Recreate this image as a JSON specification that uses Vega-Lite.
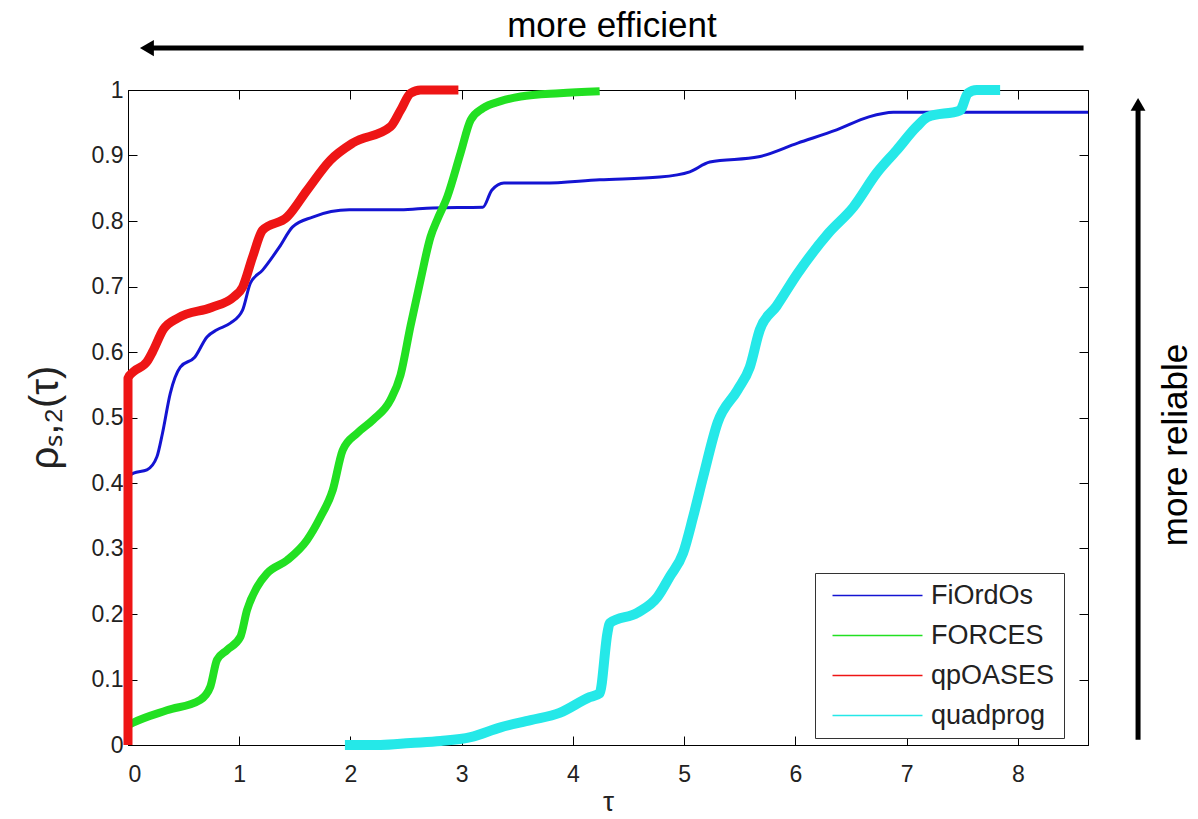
{
  "$schema": "https://vega.github.io/schema/vega-lite/v6.json",
  "width": 960,
  "height": 655,
  "autosize": {"type": "none"},
  "padding": {"left": 128, "top": 90, "right": 110, "bottom": 74},
  "background": "white",
  "config": {
    "view": {"stroke": "black", "strokeWidth": 1},
    "axis": {"grid": false, "domainColor": "black", "tickColor": "black", "labelFont": "Liberation Sans", "titleFont": "Liberation Sans", "labelColor": "#222", "titleColor": "#222", "titleFontWeight": "normal"},
    "line": {"interpolate": "monotone", "strokeJoin": "round", "strokeCap": "butt"}
  },
  "datasets": {
    "curves": [
      {"s": "FiOrdOs", "t": 0, "p": 0.41},
      {"s": "FiOrdOs", "t": 0.05, "p": 0.415},
      {"s": "FiOrdOs", "t": 0.17, "p": 0.42},
      {"s": "FiOrdOs", "t": 0.26, "p": 0.44},
      {"s": "FiOrdOs", "t": 0.31, "p": 0.476},
      {"s": "FiOrdOs", "t": 0.38, "p": 0.537},
      {"s": "FiOrdOs", "t": 0.47, "p": 0.577},
      {"s": "FiOrdOs", "t": 0.6, "p": 0.592},
      {"s": "FiOrdOs", "t": 0.71, "p": 0.623},
      {"s": "FiOrdOs", "t": 0.8, "p": 0.634},
      {"s": "FiOrdOs", "t": 0.92, "p": 0.644},
      {"s": "FiOrdOs", "t": 1.03, "p": 0.664},
      {"s": "FiOrdOs", "t": 1.1, "p": 0.705},
      {"s": "FiOrdOs", "t": 1.21, "p": 0.725},
      {"s": "FiOrdOs", "t": 1.36, "p": 0.76},
      {"s": "FiOrdOs", "t": 1.48, "p": 0.791},
      {"s": "FiOrdOs", "t": 1.66, "p": 0.806},
      {"s": "FiOrdOs", "t": 1.99, "p": 0.817},
      {"s": "FiOrdOs", "t": 2.45, "p": 0.817},
      {"s": "FiOrdOs", "t": 2.74, "p": 0.82},
      {"s": "FiOrdOs", "t": 3.19, "p": 0.821},
      {"s": "FiOrdOs", "t": 3.27, "p": 0.847},
      {"s": "FiOrdOs", "t": 3.38, "p": 0.858},
      {"s": "FiOrdOs", "t": 3.73, "p": 0.858},
      {"s": "FiOrdOs", "t": 4.24, "p": 0.863},
      {"s": "FiOrdOs", "t": 4.78, "p": 0.867},
      {"s": "FiOrdOs", "t": 5.05, "p": 0.875},
      {"s": "FiOrdOs", "t": 5.23, "p": 0.89},
      {"s": "FiOrdOs", "t": 5.67, "p": 0.898},
      {"s": "FiOrdOs", "t": 6.02, "p": 0.919},
      {"s": "FiOrdOs", "t": 6.37, "p": 0.939},
      {"s": "FiOrdOs", "t": 6.66, "p": 0.959},
      {"s": "FiOrdOs", "t": 6.88, "p": 0.966},
      {"s": "FiOrdOs", "t": 8.63, "p": 0.966},
      {"s": "FORCES", "t": 0, "p": 0.03},
      {"s": "FORCES", "t": 0.045, "p": 0.034},
      {"s": "FORCES", "t": 0.35, "p": 0.053},
      {"s": "FORCES", "t": 0.65, "p": 0.069},
      {"s": "FORCES", "t": 0.74, "p": 0.089},
      {"s": "FORCES", "t": 0.8, "p": 0.13},
      {"s": "FORCES", "t": 0.89, "p": 0.145},
      {"s": "FORCES", "t": 1.01, "p": 0.165},
      {"s": "FORCES", "t": 1.07, "p": 0.206},
      {"s": "FORCES", "t": 1.16, "p": 0.241},
      {"s": "FORCES", "t": 1.25, "p": 0.262},
      {"s": "FORCES", "t": 1.43, "p": 0.282},
      {"s": "FORCES", "t": 1.61, "p": 0.313},
      {"s": "FORCES", "t": 1.73, "p": 0.348},
      {"s": "FORCES", "t": 1.84, "p": 0.389},
      {"s": "FORCES", "t": 1.93, "p": 0.45},
      {"s": "FORCES", "t": 2.06, "p": 0.476},
      {"s": "FORCES", "t": 2.2, "p": 0.496},
      {"s": "FORCES", "t": 2.36, "p": 0.527},
      {"s": "FORCES", "t": 2.45, "p": 0.565},
      {"s": "FORCES", "t": 2.54, "p": 0.64},
      {"s": "FORCES", "t": 2.63, "p": 0.71},
      {"s": "FORCES", "t": 2.72, "p": 0.776},
      {"s": "FORCES", "t": 2.78, "p": 0.802},
      {"s": "FORCES", "t": 2.87, "p": 0.837},
      {"s": "FORCES", "t": 2.99, "p": 0.904},
      {"s": "FORCES", "t": 3.08, "p": 0.954},
      {"s": "FORCES", "t": 3.19, "p": 0.972},
      {"s": "FORCES", "t": 3.35, "p": 0.983},
      {"s": "FORCES", "t": 3.53, "p": 0.99},
      {"s": "FORCES", "t": 3.88, "p": 0.995},
      {"s": "FORCES", "t": 4.24, "p": 0.998},
      {"s": "qpOASES", "t": 0, "p": 0},
      {"s": "qpOASES", "t": 0, "p": 0.56},
      {"s": "qpOASES", "t": 0.05, "p": 0.57},
      {"s": "qpOASES", "t": 0.17, "p": 0.585},
      {"s": "qpOASES", "t": 0.22, "p": 0.6},
      {"s": "qpOASES", "t": 0.32, "p": 0.635},
      {"s": "qpOASES", "t": 0.45, "p": 0.652},
      {"s": "qpOASES", "t": 0.75, "p": 0.668},
      {"s": "qpOASES", "t": 0.95, "p": 0.684},
      {"s": "qpOASES", "t": 1.03, "p": 0.699},
      {"s": "qpOASES", "t": 1.12, "p": 0.745},
      {"s": "qpOASES", "t": 1.21, "p": 0.786},
      {"s": "qpOASES", "t": 1.43, "p": 0.806},
      {"s": "qpOASES", "t": 1.61, "p": 0.847},
      {"s": "qpOASES", "t": 1.82, "p": 0.893},
      {"s": "qpOASES", "t": 2.02, "p": 0.919},
      {"s": "qpOASES", "t": 2.36, "p": 0.944},
      {"s": "qpOASES", "t": 2.45, "p": 0.969},
      {"s": "qpOASES", "t": 2.54, "p": 0.995},
      {"s": "qpOASES", "t": 2.63, "p": 1.0},
      {"s": "qpOASES", "t": 2.97, "p": 1.0},
      {"s": "quadprog", "t": 1.95, "p": 0},
      {"s": "quadprog", "t": 2.27, "p": 0},
      {"s": "quadprog", "t": 2.54, "p": 0.003},
      {"s": "quadprog", "t": 2.81, "p": 0.006},
      {"s": "quadprog", "t": 3.08, "p": 0.012},
      {"s": "quadprog", "t": 3.35, "p": 0.027},
      {"s": "quadprog", "t": 3.62, "p": 0.038},
      {"s": "quadprog", "t": 3.88, "p": 0.049},
      {"s": "quadprog", "t": 4.15, "p": 0.073},
      {"s": "quadprog", "t": 4.24, "p": 0.079},
      {"s": "quadprog", "t": 4.31, "p": 0.171},
      {"s": "quadprog", "t": 4.33, "p": 0.186},
      {"s": "quadprog", "t": 4.58, "p": 0.202},
      {"s": "quadprog", "t": 4.76, "p": 0.226},
      {"s": "quadprog", "t": 4.87, "p": 0.257},
      {"s": "quadprog", "t": 4.99, "p": 0.293},
      {"s": "quadprog", "t": 5.08, "p": 0.348},
      {"s": "quadprog", "t": 5.17, "p": 0.409},
      {"s": "quadprog", "t": 5.3, "p": 0.492},
      {"s": "quadprog", "t": 5.48, "p": 0.542},
      {"s": "quadprog", "t": 5.59, "p": 0.577},
      {"s": "quadprog", "t": 5.68, "p": 0.634},
      {"s": "quadprog", "t": 5.83, "p": 0.67},
      {"s": "quadprog", "t": 6.02, "p": 0.72},
      {"s": "quadprog", "t": 6.3, "p": 0.782},
      {"s": "quadprog", "t": 6.52, "p": 0.821},
      {"s": "quadprog", "t": 6.73, "p": 0.873},
      {"s": "quadprog", "t": 6.91, "p": 0.908},
      {"s": "quadprog", "t": 7.09, "p": 0.944},
      {"s": "quadprog", "t": 7.19, "p": 0.959},
      {"s": "quadprog", "t": 7.48, "p": 0.969},
      {"s": "quadprog", "t": 7.55, "p": 0.995},
      {"s": "quadprog", "t": 7.63, "p": 1.0},
      {"s": "quadprog", "t": 7.84, "p": 1.0}
    ]
  },
  "layer": [
    {
      "data": {"name": "curves"},
      "transform": [{"filter": "datum.s == 'FiOrdOs'"}],
      "mark": {"type": "line", "strokeWidth": 3},
      "encoding": {
        "x": {"field": "t", "type": "quantitative", "title": "τ",
          "scale": {"domain": [0, 8.63], "nice": false, "zero": false},
          "axis": {"values": [0,1,2,3,4,5,6,7,8], "tickSize": -9, "labelPadding": 27, "labelFontSize": 23, "titleFontSize": 28, "titlePadding": 2, "format": "d"}},
        "y": {"field": "p", "type": "quantitative", "title": "ρₛ,₂(τ)",
          "scale": {"domain": [0, 1], "nice": false},
          "axis": {"values": [0,0.1,0.2,0.3,0.4,0.5,0.6,0.7,0.8,0.9,1], "tickSize": -9, "labelPadding": 14, "labelFontSize": 23, "titleFontSize": 40, "titleX": -83, "titleY": 327, "titleBaseline": "middle", "titleAlign": "center", "labelExpr": "datum.value == 0 ? '0' : datum.value == 1 ? '1' : format(datum.value, '.1f')"}},
        "color": {"field": "s", "type": "nominal",
          "scale": {"domain": ["FiOrdOs", "FORCES", "qpOASES", "quadprog"], "range": ["#1414d2", "#22e022", "#ee1515", "#25e8e8"]},
          "legend": {"orient": "none", "legendX": 687, "legendY": 483, "title": null, "symbolType": "M-4,0H4", "symbolSize": 506, "symbolStrokeWidth": 1.5, "symbolOffset": 40, "labelFont": "Liberation Sans", "labelFontSize": 27, "labelColor": "#222", "labelOffset": 40, "strokeColor": "#333", "fillColor": "white", "padding": 9, "rowPadding": 12}},
        "order": {"value": null}
      }
    },
    {
      "data": {"name": "curves"},
      "transform": [{"filter": "datum.s == 'FORCES'"}],
      "mark": {"type": "line", "strokeWidth": 8},
      "encoding": {
        "x": {"field": "t", "type": "quantitative", "axis": null, "scale": {"domain": [0, 8.63], "nice": false, "zero": false}},
        "y": {"field": "p", "type": "quantitative", "axis": null, "scale": {"domain": [0, 1], "nice": false}},
        "color": {"field": "s", "type": "nominal", "scale": {"domain": ["FiOrdOs", "FORCES", "qpOASES", "quadprog"], "range": ["#1414d2", "#22e022", "#ee1515", "#25e8e8"]}},
        "order": {"value": null}
      }
    },
    {
      "data": {"name": "curves"},
      "transform": [{"filter": "datum.s == 'qpOASES'"}],
      "mark": {"type": "line", "strokeWidth": 9},
      "encoding": {
        "x": {"field": "t", "type": "quantitative", "axis": null, "scale": {"domain": [0, 8.63], "nice": false, "zero": false}},
        "y": {"field": "p", "type": "quantitative", "axis": null, "scale": {"domain": [0, 1], "nice": false}},
        "color": {"field": "s", "type": "nominal", "scale": {"domain": ["FiOrdOs", "FORCES", "qpOASES", "quadprog"], "range": ["#1414d2", "#22e022", "#ee1515", "#25e8e8"]}},
        "order": {"value": null}
      }
    },
    {
      "data": {"name": "curves"},
      "transform": [{"filter": "datum.s == 'quadprog'"}],
      "mark": {"type": "line", "strokeWidth": 10},
      "encoding": {
        "x": {"field": "t", "type": "quantitative", "axis": null, "scale": {"domain": [0, 8.63], "nice": false, "zero": false}},
        "y": {"field": "p", "type": "quantitative", "axis": null, "scale": {"domain": [0, 1], "nice": false}},
        "color": {"field": "s", "type": "nominal", "scale": {"domain": ["FiOrdOs", "FORCES", "qpOASES", "quadprog"], "range": ["#1414d2", "#22e022", "#ee1515", "#25e8e8"]}},
        "order": {"value": null}
      }
    },
    {
      "data": {"name": "curves"},
      "mark": {"type": "line", "opacity": 0},
      "encoding": {
        "x": {"field": "t", "type": "quantitative", "scale": {"domain": [0, 8.63], "nice": false, "zero": false},
          "axis": {"orient": "top", "values": [0,1,2,3,4,5,6,7,8], "tickSize": -9, "labels": false, "title": null}},
        "y": {"field": "p", "type": "quantitative", "scale": {"domain": [0, 1], "nice": false},
          "axis": {"orient": "right", "values": [0,0.1,0.2,0.3,0.4,0.5,0.6,0.7,0.8,0.9,1], "tickSize": -9, "labels": false, "title": null}},
        "detail": {"field": "s"}
      }
    },
    {
      "data": {"values": [{}]},
      "mark": {"type": "rule", "strokeWidth": 5, "color": "black"},
      "encoding": {
        "x": {"datum": 8.59, "type": "quantitative", "axis": null, "scale": {"domain": [0, 8.63], "nice": false, "zero": false}},
        "x2": {"datum": 0.2},
        "y": {"datum": 1.064, "type": "quantitative", "axis": null, "scale": {"domain": [0, 1], "nice": false}}
      }
    },
    {
      "data": {"values": [{}]},
      "mark": {"type": "point", "shape": "triangle-left", "filled": true, "color": "black", "size": 260, "opacity": 1},
      "encoding": {
        "x": {"datum": 0.17, "type": "quantitative", "axis": null, "scale": {"domain": [0, 8.63], "nice": false, "zero": false}},
        "y": {"datum": 1.064, "type": "quantitative", "axis": null, "scale": {"domain": [0, 1], "nice": false}}
      }
    },
    {
      "data": {"values": [{}]},
      "mark": {"type": "rule", "strokeWidth": 5, "color": "black"},
      "encoding": {
        "x": {"datum": 9.08, "type": "quantitative", "axis": null, "scale": {"domain": [0, 8.63], "nice": false, "zero": false}},
        "y": {"datum": 0.008, "type": "quantitative", "axis": null, "scale": {"domain": [0, 1], "nice": false}},
        "y2": {"datum": 0.97}
      }
    },
    {
      "data": {"values": [{}]},
      "mark": {"type": "point", "shape": "triangle-up", "filled": true, "color": "black", "size": 220, "opacity": 1},
      "encoding": {
        "x": {"datum": 9.08, "type": "quantitative", "axis": null, "scale": {"domain": [0, 8.63], "nice": false, "zero": false}},
        "y": {"datum": 0.978, "type": "quantitative", "axis": null, "scale": {"domain": [0, 1], "nice": false}}
      }
    },
    {
      "data": {"values": [{}]},
      "mark": {"type": "text", "text": "more efficient", "font": "Liberation Sans", "fontSize": 35, "color": "black", "align": "center", "baseline": "middle"},
      "encoding": {
        "x": {"datum": 4.35, "type": "quantitative", "axis": null, "scale": {"domain": [0, 8.63], "nice": false, "zero": false}},
        "y": {"datum": 1.097, "type": "quantitative", "axis": null, "scale": {"domain": [0, 1], "nice": false}}
      }
    },
    {
      "data": {"values": [{}]},
      "mark": {"type": "text", "text": "more reliable", "font": "Liberation Sans", "fontSize": 35, "color": "black", "align": "center", "baseline": "middle", "angle": 270},
      "encoding": {
        "x": {"datum": 9.42, "type": "quantitative", "axis": null, "scale": {"domain": [0, 8.63], "nice": false, "zero": false}},
        "y": {"datum": 0.458, "type": "quantitative", "axis": null, "scale": {"domain": [0, 1], "nice": false}}
      }
    }
  ],
  "resolve": {"axis": {"x": "independent", "y": "independent"}}
}
